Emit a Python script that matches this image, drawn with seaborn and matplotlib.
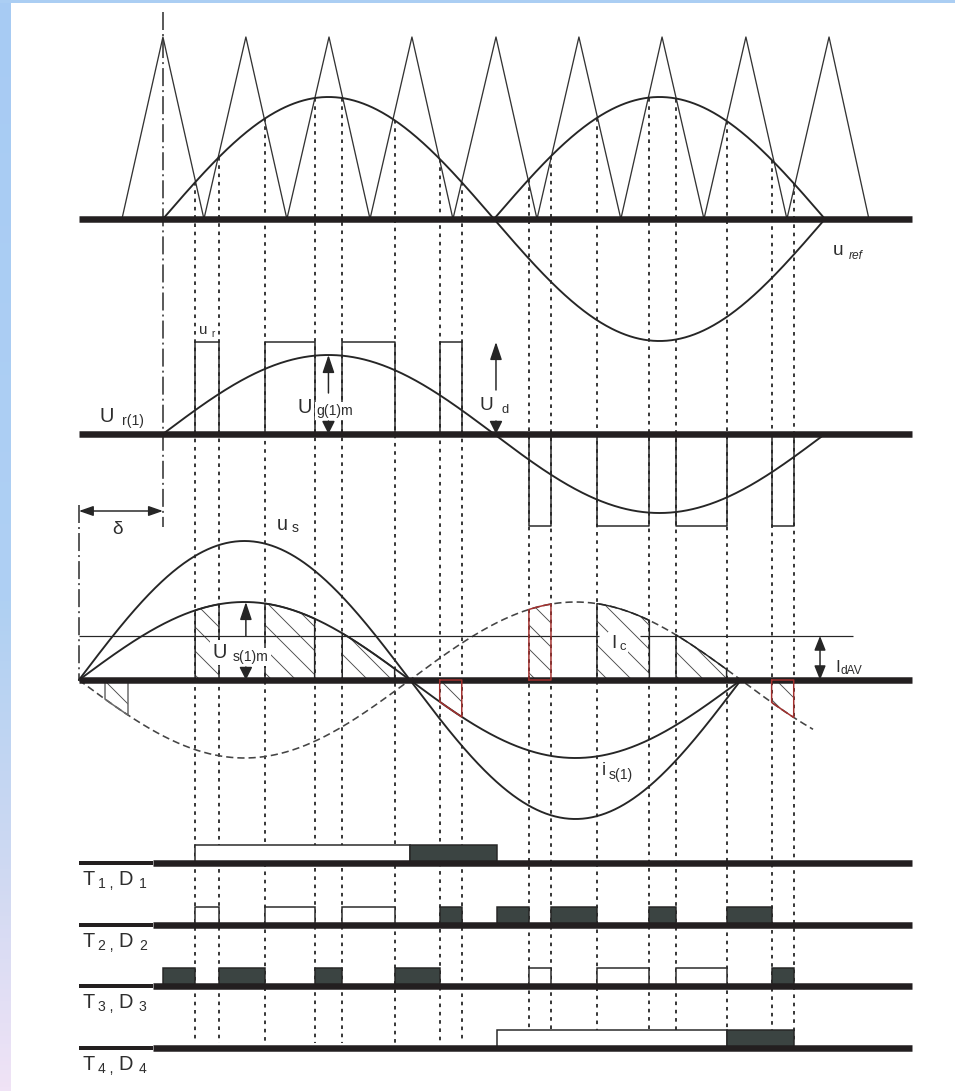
import numpy as np
import matplotlib
matplotlib.use("Agg")
import matplotlib.pyplot as plt
from matplotlib.colors import LinearSegmentedColormap
from matplotlib.patches import Rectangle, Polygon
import seaborn as sns

# ------------------------------------------------------------------
# Waveform data, angles in electrical degrees (0 = rising zero of u_ref)
# ------------------------------------------------------------------
# unipolar triangular carrier: vertex times and normalised levels
carrier_t = [-22.3, 0.0, 22.3, 45.1, 67.4, 90.3, 112.6, 135.4, 157.7, 181.1,
             203.4, 226.2, 249.0, 271.4, 294.2, 317.0, 339.3, 362.2, 383.9]
carrier_v = [0, 1, 0, 1, 0, 1, 0, 1, 0, 1, 0, 1, 0, 1, 0, 1, 0, 1, 0]
CARRIER_PEAK = 182.0
REF_AMP = 122.0

# carrier / reference intersections (switching instants)
switch_t = [17.5, 30.5, 55.5, 82.5, 97.5, 126.0, 150.5, 162.5,
            199.0, 211.0, 236.0, 264.5, 279.0, 306.5, 331.0, 343.0]
pulse_sign = [1, 1, 1, 1, -1, -1, -1, -1]      # polarity of each u_r pulse
UD = 92.0                                      # DC link voltage
UR1_AMP = 79.0                                 # fundamental of u_r

# grid side quantities
DELTA = 45.7                                   # load angle u_s -> u_r(1)
US_AMP = 139.0
IS1_AMP = 78.0
IDAV = 44.0
DASHED_END = 353.5

# DC-side current segments (hatched)
hatch_start = [-31.5, 17.5, 55.5, 97.5, 150.5, 199.0, 236.0, 279.0, 331.0]
hatch_end = [-19.0, 30.5, 82.5, 126.0, 162.5, 211.0, 264.5, 306.5, 343.0]
hatch_sign = [-1, 1, 1, 1, 1, -1, -1, -1, -1]
hatch_edge = ["grey", "black", "black", "black", "red", "red", "black", "black", "red"]

# conduction intervals of transistors (open) and diodes (filled)
t1_igbt = [(17.5, 134.5)]
t1_diode = [(134.5, 181.5)]
t2_igbt = [(17.5, 30.5), (55.5, 82.5), (97.5, 126.0)]
t2_diode = [(150.5, 162.5), (181.5, 199.0), (211.0, 236.0), (264.5, 279.0), (306.5, 331.0)]
t3_igbt = [(199.0, 211.0), (236.0, 264.5), (279.0, 306.5)]
t3_diode = [(0.0, 17.5), (30.5, 55.5), (82.5, 97.5), (126.0, 150.5), (331.0, 343.0)]
t4_igbt = [(181.5, 306.5)]
t4_diode = [(306.5, 343.0)]
row_names = ["1", "2", "3", "4"]

# ------------------------------------------------------------------
# Layout and style
# ------------------------------------------------------------------
BASE_CARRIER, BASE_UR, BASE_US = 219, 434, 680
ROW_BASES = [863, 925, 986, 1048]
ROW_H = 18
X0, X1 = -DELTA, 407.3
XLIM = (-88.6, 430.7)
DOT_BOTTOM = 1043

LINE = "#262626"
AXIS = "#231f20"
DARK = "#3b4442"
HATCH = "#4a4a4a"
TEXT = "#2e2e2e"
EDGE = {"black": LINE, "grey": "#6a6a6a", "red": "#a3302e"}

sns.set_theme(style="white")
plt.rcParams["font.family"] = ["Liberation Sans", "DejaVu Sans"]
plt.rcParams["hatch.linewidth"] = 0.9
plt.rcParams["hatch.color"] = HATCH

fig = plt.figure(figsize=(955 / 72, 1091 / 72), dpi=72, facecolor="white")

# soft page border on the left and top
strip = fig.add_axes([0, 0, 11 / 955, 1])
grad = LinearSegmentedColormap.from_list(
    "border", [(0, "#a7cbf3"), (0.55, "#afd0f3"), (0.8, "#cfd9f2"), (1, "#f0e3f6")])
strip.imshow(np.linspace(0, 1, 256)[:, None], aspect="auto", cmap=grad)
strip.axis("off")
fig.patches.append(Rectangle((0, 1 - 3 / 1091), 1, 3 / 1091,
                             transform=fig.transFigure, color="#abcef3", lw=0))

ax = fig.add_axes([0, 0, 1, 1])
ax.set_xlim(*XLIM)
ax.set_ylim(1091, 0)
ax.axis("off")


def trace(t, v, base, **kw):
    kw.setdefault("color", LINE)
    kw.setdefault("linewidth", 1.9)
    sns.lineplot(x=np.asarray(t, float), y=base - np.asarray(v, float), ax=ax,
                 sort=False, estimator=None, legend=False, **kw)


def arrow(x0, y0, x1, y1, style="-|>", hl=1.25, hw=0.42):
    ax.annotate("", xy=(x1, y1), xytext=(x0, y0), zorder=6,
                arrowprops=dict(arrowstyle=f"{style},head_length={hl},head_width={hw}",
                                color=LINE, lw=1.5, shrinkA=0, shrinkB=0,
                                mutation_scale=12))


def label(x, y, s, size, box=False, **kw):
    bbox = dict(boxstyle="square,pad=0.15", fc="white", ec="none") if box else None
    ax.text(x, y, s, fontsize=size, color=TEXT, ha="left", va="baseline",
            zorder=7, bbox=bbox, **kw)


sw = np.asarray(switch_t)

# ---------------- vertical guide lines ----------------
tops = BASE_CARRIER - REF_AMP * np.abs(np.sin(np.radians(sw)))
ax.vlines(sw, tops, DOT_BOTTOM, colors=LINE, linestyles=[(0, (2.0, 2.6))],
          linewidth=1.8, zorder=1)
ax.vlines([0], 12, 527, colors=LINE, linestyles=[(0, (12, 2.7, 1.3, 2.7))],
          linewidth=1.5, zorder=1)
ax.vlines([-DELTA], 505, BASE_US, colors=LINE, linestyles=[(0, (12, 2.7, 1.3, 2.7))],
          linewidth=1.5, zorder=1)

# ---------------- panel 1: carrier and reference ----------------
trace(carrier_t, CARRIER_PEAK * np.asarray(carrier_v, float), BASE_CARRIER,
      linewidth=1.3, color="#333333", zorder=3)
t_ref = np.linspace(0, 360, 721)
trace(t_ref, REF_AMP * np.abs(np.sin(np.radians(t_ref))), BASE_CARRIER, zorder=3)
t_neg = np.linspace(180, 360, 361)
trace(t_neg, REF_AMP * np.sin(np.radians(t_neg)), BASE_CARRIER, zorder=3)

# ---------------- panel 2: rectifier input voltage ----------------
for k, p in enumerate(pulse_sign):
    a, b = sw[2 * k], sw[2 * k + 1]
    trace([a, a, b, b], [0, p * UD, p * UD, 0], BASE_UR, linewidth=1.5, zorder=3)
trace(t_ref, UR1_AMP * np.sin(np.radians(t_ref)), BASE_UR, zorder=3)

# ---------------- panel 3: grid voltage and currents ----------------
t_grid = np.linspace(-DELTA, 360 - DELTA, 721)
trace(t_grid, US_AMP * np.sin(np.radians(t_grid + DELTA)), BASE_US, zorder=3)
trace(t_grid, IS1_AMP * np.sin(np.radians(t_grid + DELTA)), BASE_US, zorder=3)
t_dash = np.linspace(-DELTA, DASHED_END, 801)
trace(t_dash, -IS1_AMP * np.sin(np.radians(t_dash + DELTA)), BASE_US,
      linewidth=1.6, color="#444444", linestyle=(0, (4.5, 2.5)), zorder=3)

for a, b, sgn, ec in zip(hatch_start, hatch_end, hatch_sign, hatch_edge):
    t = np.linspace(a, b, 40)
    v = sgn * IS1_AMP * np.sin(np.radians(t + DELTA))
    xs = np.r_[a, t, b]
    vs = np.r_[0, v, 0]
    ax.add_patch(Polygon(np.c_[xs, BASE_US - vs], closed=True, facecolor="none",
                         edgecolor=HATCH, linewidth=0, hatch="\\", zorder=2))
    if ec == "red":
        xs, vs = np.r_[xs, a], np.r_[vs, 0]
    trace(xs, vs, BASE_US, color=EDGE[ec], linewidth=1.5,
          zorder=6 if ec == "red" else 3)

# mean DC current level
ax.hlines(BASE_US - IDAV, X0, 237.1, colors=LINE, linewidth=1.2, zorder=3)
ax.hlines(BASE_US - IDAV, 259.4, 375.2, colors=LINE, linewidth=1.2, zorder=3)

# ---------------- panel 4: device conduction ----------------
rows = [(t1_igbt, t1_diode), (t2_igbt, t2_diode), (t3_igbt, t3_diode), (t4_igbt, t4_diode)]
for base, (igbt, diode) in zip(ROW_BASES, rows):
    for a, b in igbt:
        ax.add_patch(Rectangle((a, base - ROW_H), b - a, ROW_H, facecolor="white",
                               edgecolor=LINE, linewidth=1.5, zorder=3))
    for a, b in diode:
        ax.add_patch(Rectangle((a, base - ROW_H), b - a, ROW_H, facecolor=DARK,
                               edgecolor=LINE, linewidth=1.5, zorder=3))
    ax.hlines(base - 0.5, X0, -5.4, colors=AXIS, linewidth=4, zorder=5)
    ax.hlines(base, -5.4, X1, colors=AXIS, linewidth=6.5, zorder=5)

# time axes of the upper panels
ax.hlines([BASE_CARRIER, BASE_UR, BASE_US], X0, X1, colors=AXIS, linewidth=6.5, zorder=5)

# ---------------- dimension arrows ----------------
arrow(90.0, 393, 90.0, BASE_UR - UR1_AMP)
arrow(90.0, 421, 90.0, BASE_UR, hl=0.9, hw=0.45)
arrow(181.1, 390, 181.1, BASE_UR - UD)
arrow(181.1, 421, 181.1, BASE_UR, hl=0.9, hw=0.45)
arrow(45.1, 636, 45.1, BASE_US - IS1_AMP)
arrow(45.1, 667, 45.1, BASE_US, hl=0.9, hw=0.45)
arrow(357.3, BASE_US, 357.3, BASE_US - IDAV, style="<|-|>", hl=1.0, hw=0.4)
arrow(-DELTA, 511, 0.0, 511, style="<|-|>", hl=1.0, hw=0.35)

# ---------------- labels ----------------
label(364.3, 255, "u", 19)
label(373.0, 259, "ref", 12, style="italic")
label(19.6, 334, "u", 15)
label(26.1, 337, "r", 10)
label(-34.3, 422, "U", 20)
label(-22.3, 425, "r(1)", 14)
label(72.9, 413, "U", 20, box=True)
label(83.7, 415, "g(1)m", 14, box=True)
label(172.4, 410, "U", 19)
label(184.3, 413, "d", 13)
label(-27.7, 534, "δ", 19)
label(62.0, 530, "u", 20)
label(70.2, 532, "s", 14)
label(27.2, 658, "U", 20, box=True)
label(38.1, 661, "s(1)m", 14, box=True)
label(243.6, 648, "I", 19, box=True)
label(248.5, 650, "c", 13, box=True)
label(365.4, 672, "I", 17)
label(368.4, 674, "dAV", 12)
label(238.7, 775, "i", 19)
label(242.5, 779, "s(1)", 14)
for base, n in zip(ROW_BASES, row_names):
    label(-44.0, base + 22, "T", 20)
    label(-35.3, base + 25, n + " ,", 14)
    label(-24.5, base + 22, "D", 20)
    label(-13.1, base + 25, n, 14)

fig.savefig("out.png", dpi=72, facecolor="white")
